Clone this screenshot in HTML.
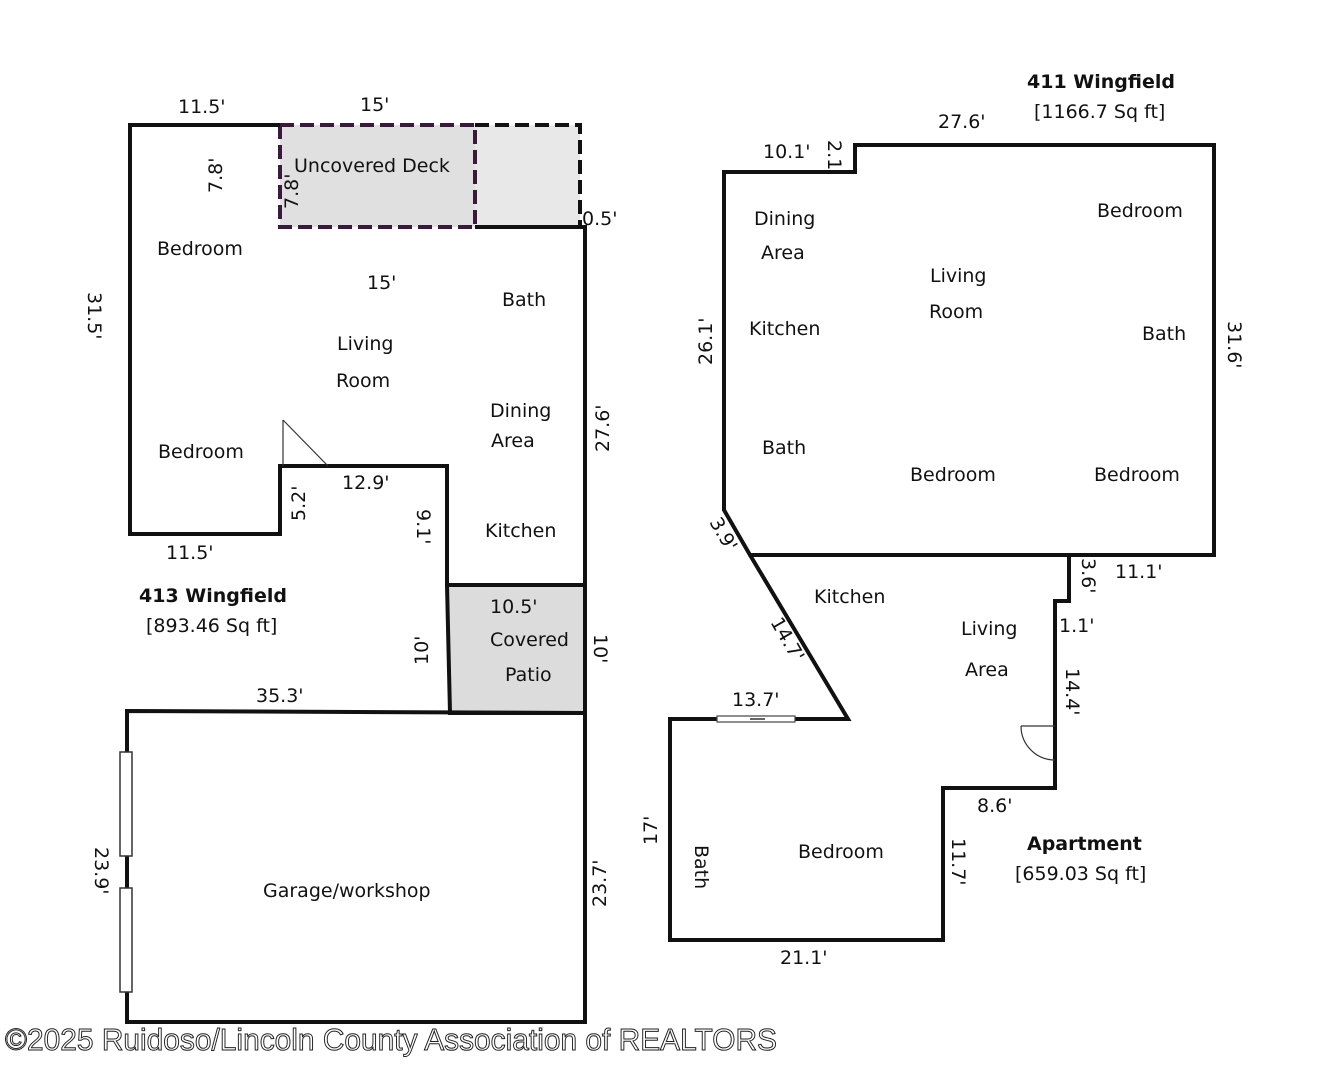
<!DOCTYPE html>
<html><head><meta charset="utf-8"><style>
html,body{margin:0;padding:0;background:#fff;width:1326px;height:1089px;overflow:hidden}
svg{display:block}
text{font-family:"DejaVu Sans","Liberation Sans",sans-serif;font-size:19px;fill:#111}
.b{font-weight:bold}
</style></head><body>
<svg width="1326" height="1089" viewBox="0 0 1326 1089">
<!-- deck -->
<rect x="280" y="125" width="195" height="102" fill="#e0e0e0"/>
<rect x="475" y="125" width="105" height="102" fill="#e8e8e8"/>
<path d="M280 125 H475 V227 H280 Z" fill="none" stroke="#3a1a3a" stroke-width="4" stroke-dasharray="14 6"/>
<path d="M475 125 H580 V227" fill="none" stroke="#111" stroke-width="4" stroke-dasharray="14 6"/>
<!-- patio -->
<path d="M447 585 H585 V713 H450 Z" fill="#dcdcdc" stroke="#111" stroke-width="4"/>
<!-- left house -->
<path d="M280 125 H130 V534 H280 V466 H447 V585 M475 227 H585 V1022 H127 V711 L585 713" fill="none" stroke="#111" stroke-width="4"/>
<!-- door -->
<path d="M283 420 L283 466 M283 420 L328 466" fill="none" stroke="#333" stroke-width="1.2"/>
<!-- windows -->
<rect x="120" y="752" width="12" height="104" fill="#fff" stroke="#333" stroke-width="1.5"/>
<rect x="120" y="888" width="12" height="104" fill="#fff" stroke="#333" stroke-width="1.5"/>
<!-- right house -->
<path d="M724 510 V172 H855 V145 H1214 V555 H750 Z" fill="none" stroke="#111" stroke-width="4"/>
<path d="M750 555 L848 719 H670 V940 H943 V788 H1055 V601 H1069 V555 H1039" fill="none" stroke="#111" stroke-width="4"/>
<rect x="717" y="716" width="78" height="6" fill="#fff" stroke="#444" stroke-width="1.2"/>
<line x1="750" y1="719" x2="765" y2="719" stroke="#666" stroke-width="2"/>
<path d="M1021 726 H1055 M1021 726 A34 34 0 0 0 1055 760" fill="none" stroke="#333" stroke-width="1.2"/>

<!-- left labels -->
<text x="178" y="113">11.5'</text>
<text x="360" y="111">15'</text>
<text x="294" y="172">Uncovered Deck</text>
<text transform="translate(222,193) rotate(-90)">7.8'</text>
<text transform="translate(298,209) rotate(-90)">7.8'</text>
<text x="582" y="225">0.5'</text>
<text x="157" y="255">Bedroom</text>
<text x="367" y="289">15'</text>
<text x="502" y="306">Bath</text>
<text transform="translate(88,292) rotate(90)">31.5'</text>
<text x="337" y="350">Living</text>
<text x="336" y="387">Room</text>
<text x="490" y="417">Dining</text>
<text x="491" y="447">Area</text>
<text transform="translate(609,452) rotate(-90)">27.6'</text>
<text x="158" y="458">Bedroom</text>
<text x="342" y="489">12.9'</text>
<text transform="translate(305,521) rotate(-90)">5.2'</text>
<text transform="translate(417,509) rotate(90)">9.1'</text>
<text x="485" y="537">Kitchen</text>
<text x="166" y="559">11.5'</text>
<text x="139" y="602" class="b">413 Wingfield</text>
<text x="146" y="632">[893.46 Sq ft]</text>
<text x="490" y="613">10.5'</text>
<text x="490" y="646">Covered</text>
<text x="505" y="681">Patio</text>
<text transform="translate(428,665) rotate(-90)">10'</text>
<text transform="translate(594,634) rotate(90)">10'</text>
<text x="256" y="702">35.3'</text>
<text transform="translate(95,847) rotate(90)">23.9'</text>
<text x="263" y="897">Garage/workshop</text>
<text transform="translate(606,907) rotate(-90)">23.7'</text>

<!-- right labels -->
<text x="1027" y="88" class="b">411 Wingfield</text>
<text x="1034" y="118">[1166.7 Sq ft]</text>
<text x="938" y="128">27.6'</text>
<text x="763" y="158">10.1'</text>
<text transform="translate(828,140) rotate(90)">2.1'</text>
<text x="754" y="225">Dining</text>
<text x="761" y="259">Area</text>
<text x="1097" y="217">Bedroom</text>
<text x="930" y="282">Living</text>
<text x="929" y="318">Room</text>
<text x="749" y="335">Kitchen</text>
<text x="1142" y="340">Bath</text>
<text transform="translate(712,365) rotate(-90)">26.1'</text>
<text transform="translate(1228,321) rotate(90)">31.6'</text>
<text x="762" y="454">Bath</text>
<text x="910" y="481">Bedroom</text>
<text x="1094" y="481">Bedroom</text>
<text transform="translate(709,522) rotate(60)">3.9'</text>
<text transform="translate(1082,558) rotate(90)">3.6'</text>
<text x="1115" y="578">11.1'</text>
<text x="814" y="603">Kitchen</text>
<text x="961" y="635">Living</text>
<text x="965" y="676">Area</text>
<text x="1059" y="632">1.1'</text>
<text transform="translate(770,622) rotate(60)">14.7'</text>
<text transform="translate(1066,668) rotate(90)">14.4'</text>
<text x="732" y="706">13.7'</text>
<text x="977" y="812">8.6'</text>
<text x="1027" y="850" class="b">Apartment</text>
<text x="1015" y="880">[659.03 Sq ft]</text>
<text transform="translate(657,845) rotate(-90)">17'</text>
<text transform="translate(695,845) rotate(90)">Bath</text>
<text x="798" y="858">Bedroom</text>
<text transform="translate(952,838) rotate(90)">11.7'</text>
<text x="780" y="964">21.1'</text>

<text x="5" y="1050" textLength="772" lengthAdjust="spacingAndGlyphs" style="font-family:'Liberation Sans',sans-serif;font-size:31px;fill:#fff;stroke:#222;stroke-width:1">©2025 Ruidoso/Lincoln County Association of REALTORS</text>
</svg>
</body></html>
